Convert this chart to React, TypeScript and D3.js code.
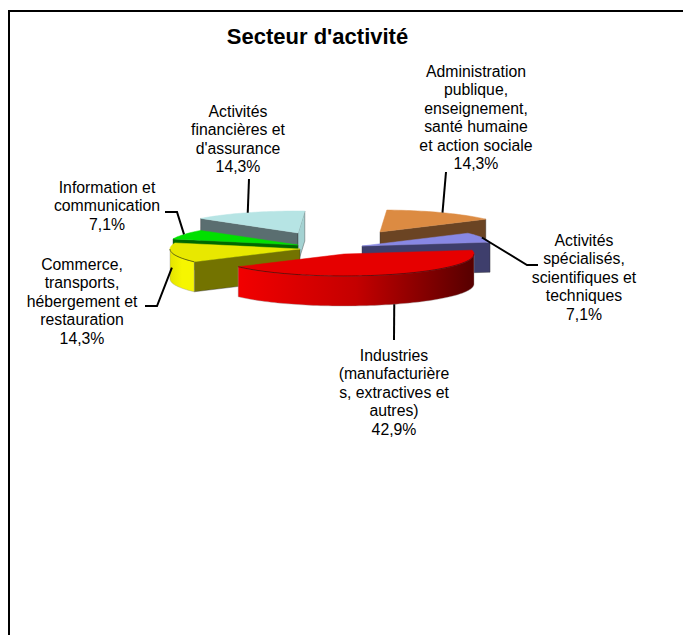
import React from 'react';
import * as d3 from 'd3';

// slices, clockwise from the back of the pie
const categories = [
  ['Administration', 'publique,', 'enseignement,', 'santé humaine', 'et action sociale'],
  ['Activités', 'spécialisés,', 'scientifiques et', 'techniques'],
  ['Industries', '(manufacturière', 's, extractives et', 'autres)'],
  ['Commerce,', 'transports,', 'hébergement et', 'restauration'],
  ['Information et', 'communication'],
  ['Activités', 'financières et', "d'assurance"],
];
const values = [14.3, 7.1, 42.9, 14.3, 7.1, 14.3];

const topColors = ['#dc8b42', '#8888e4', '#e60000', '#e8e800', '#00e000', '#b6e4e4'];
const startFaceColors = ['#6b4423', '#3e3e6c', '#700000', '#737300', '#006800', '#5a6e70'];
const endFaceColors = ['#6b4423', '#3e3e6c', '#700000', '#737300', '#006800', '#a4d2d2'];
const outerStops = [
  ['#6b4423', '#6b4423', '#6b4423'],
  ['#3e3e6c', '#3e3e6c', '#3e3e6c'],
  ['#f20000', '#c40000', '#560000'],
  ['#e4e400', '#f6f600', '#f6f600'],
  ['#006800', '#006800', '#006800'],
  ['#a4d2d2', '#a4d2d2', '#a4d2d2'],
];

// per-slice explosion: where the slice tip sits on the page
const tipX = [380, 362, 344, 300, 298, 298];
const tipY = [232, 246, 254, 249, 245, 233];
const drawOrder = [5, 0, 4, 1, 3, 2];

const rx = 130;
const ry = 22;
const depth = 30;
const startAngle = (3 * Math.PI) / 180;

// label placement
const labelX = [476, 584, 394, 82, 107, 238];
const labelY = [77, 246, 361, 270, 193, 117];
const lineStep = 18.4;
// leader: how far down the slice side it starts, then the points out to the label
const leaderDrop = [0, 0, 1, 0.5, 0, 0];
const leaderBends: [number, number][][] = [
  [[446, 172]],
  [[527, 265], [538, 265]],
  [[394, 340]],
  [[157, 306], [145, 306]],
  [[177, 212], [165, 212]],
  [[249, 179]],
];

const pie = d3
  .pie<number>()
  .sort(null)
  .startAngle(startAngle)
  .endAngle(startAngle + 2 * Math.PI);

const rim = (i: number, a: number, drop = 0): [number, number] => [
  tipX[i] + rx * Math.sin(a),
  tipY[i] - ry * Math.cos(a) + drop,
];

const arcAngles = (a0: number, a1: number) => {
  const n = Math.max(2, Math.ceil((a1 - a0) / 0.03));
  return d3.range(n + 1).map((k) => a0 + ((a1 - a0) * k) / n);
};

const line = d3.line();

const format = (v: number) => d3.format('.1f')(v).replace('.', ',') + '%';

export default function App() {
  const arcs = pie(values);
  const tip = (i: number): [number, number] => [tipX[i], tipY[i]];
  const down = (p: [number, number]): [number, number] => [p[0], p[1] + depth];

  return (
    <svg
      width={683}
      height={635}
      viewBox="0 0 683 635"
      style={{ position: 'absolute', left: 0, top: 0 }}
      fontFamily="'Liberation Sans', Arial, sans-serif"
    >
      <rect width={683} height={635} fill="#fff" />
      <path d="M9,635V11H683" fill="none" stroke="#000" strokeWidth={2} />
      <text x={317.5} y={44} textAnchor="middle" fontSize={22} fontWeight="bold">
        Secteur d'activité
      </text>

      <defs>
        {arcs.map((d, i) => {
          const a0 = Math.max(d.startAngle, Math.PI / 2);
          const a1 = Math.min(d.endAngle, (3 * Math.PI) / 2);
          const xs = a1 > a0 ? [rim(i, a0)[0], rim(i, a1)[0]] : [0, 1];
          return (
            <linearGradient
              key={i}
              id={`outer-${i}`}
              gradientUnits="userSpaceOnUse"
              x1={d3.min(xs)}
              x2={d3.max(xs)}
              y1={0}
              y2={0}
            >
              {outerStops[i].map((c, k) => (
                <stop key={k} offset={k / 2} stopColor={c} />
              ))}
            </linearGradient>
          );
        })}
      </defs>

      {drawOrder.map((i) => {
        const d = arcs[i];
        const a = rim(i, d.startAngle);
        const b = rim(i, d.endAngle);
        const top = arcAngles(d.startAngle, d.endAngle).map((t) => rim(i, t));
        const a0 = Math.max(d.startAngle, Math.PI / 2);
        const a1 = Math.min(d.endAngle, (3 * Math.PI) / 2);
        const front = a1 > a0 ? arcAngles(a0, a1).map((t) => rim(i, t)) : null;
        return (
          <g key={i}>
            {Math.sin(d.startAngle) < 0 && (
              <path
                d={line([tip(i), a, down(a), down(tip(i))]) + 'Z'}
                fill={startFaceColors[i]}
                stroke="#333"
                strokeWidth={0.4}
              />
            )}
            {Math.sin(d.endAngle) > 0 && (
              <path
                d={line([tip(i), b, down(b), down(tip(i))]) + 'Z'}
                fill={endFaceColors[i]}
                stroke="#333"
                strokeWidth={0.4}
              />
            )}
            {front && (
              <path
                d={line([...front, ...front.map(down).reverse()]) + 'Z'}
                fill={`url(#outer-${i})`}
                stroke="#999"
                strokeWidth={0.4}
              />
            )}
            <path
              d={line([tip(i), ...top]) + 'Z'}
              fill={topColors[i]}
              stroke={topColors[i]}
              strokeWidth={0.5}
            />
            {front && <path d={line(front)!} fill="none" stroke="#000" strokeOpacity={0.7} strokeWidth={0.7} />}
          </g>
        );
      })}

      {arcs.map((d, i) => {
        const mid = (d.startAngle + d.endAngle) / 2;
        const pts = [rim(i, mid, leaderDrop[i] * depth), ...leaderBends[i]];
        return <path key={i} d={line(pts)!} fill="none" stroke="#000" strokeWidth={2} />;
      })}

      {categories.map((lines, i) => (
        <text key={i} textAnchor="middle" fontSize={15.8} fill="#000">
          {[...lines, format(values[i])].map((s, k) => (
            <tspan key={k} x={labelX[i]} y={labelY[i] + k * lineStep}>
              {s}
            </tspan>
          ))}
        </text>
      ))}
    </svg>
  );
}
